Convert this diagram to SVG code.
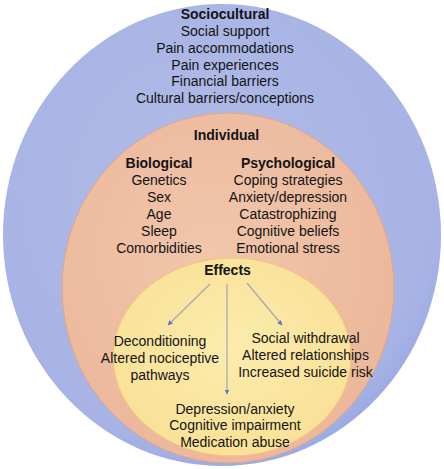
<svg xmlns="http://www.w3.org/2000/svg" width="444" height="469" viewBox="0 0 444 469">
  <style>
    text { font-family: "Liberation Sans", Arial, sans-serif; font-size: 14px; fill: #141414; text-anchor: middle; }
    .h { font-weight: bold; }
    .conn { stroke: #a3a6b8; stroke-width: 1.2; fill: none; marker-end: url(#ah); }
  </style>
  <defs>
    <radialGradient id="gBlue" cx="0.45" cy="0.4" r="0.65">
      <stop offset="0" stop-color="#b0bbe6"/>
      <stop offset="0.85" stop-color="#a7b3e5"/>
      <stop offset="1" stop-color="#95a5e2"/>
    </radialGradient>
    <radialGradient id="gOrange" cx="0.45" cy="0.4" r="0.65">
      <stop offset="0" stop-color="#f1c6ab"/>
      <stop offset="1" stop-color="#ecb699"/>
    </radialGradient>
    <radialGradient id="gYellow" cx="0.5" cy="0.45" r="0.6">
      <stop offset="0" stop-color="#fcecad"/>
      <stop offset="1" stop-color="#f9e095"/>
    </radialGradient>
    <marker id="ah" viewBox="0 0 10 10" refX="9" refY="5" markerWidth="5" markerHeight="5" orient="auto" markerUnits="userSpaceOnUse">
      <path d="M0,0 L10,5 L0,10 z" fill="#6474c8"/>
    </marker>
  </defs>

  <g id="sociocultural">
    <ellipse cx="222" cy="235" rx="219" ry="231" fill="url(#gBlue)"/>
    <text class="h" x="225" y="19">Sociocultural</text>
    <text x="225" y="36">Social support</text>
    <text x="225" y="53">Pain accommodations</text>
    <text x="225" y="69.5">Pain experiences</text>
    <text x="225" y="86">Financial barriers</text>
    <text x="225" y="103">Cultural barriers/conceptions</text>
  </g>

  <g id="individual">
    <ellipse cx="228" cy="288" rx="166" ry="175" fill="url(#gOrange)" stroke="#e2a688" stroke-width="1"/>
    <text class="h" x="226.5" y="140">Individual</text>
  </g>

  <g id="biological">
    <text class="h" x="159" y="168">Biological</text>
    <text x="159" y="185">Genetics</text>
    <text x="159" y="202">Sex</text>
    <text x="159" y="219">Age</text>
    <text x="159" y="236">Sleep</text>
    <text x="159" y="253">Comorbidities</text>
  </g>

  <g id="psychological">
    <text class="h" x="288" y="168">Psychological</text>
    <text x="288" y="185">Coping strategies</text>
    <text x="288" y="202">Anxiety/depression</text>
    <text x="288" y="219">Catastrophizing</text>
    <text x="288" y="236">Cognitive beliefs</text>
    <text x="288" y="253">Emotional stress</text>
  </g>

  <g id="effects">
    <ellipse cx="232" cy="357" rx="119" ry="99" fill="url(#gYellow)" stroke="#f0c483" stroke-width="1"/>
    <text class="h" x="227.5" y="275">Effects</text>
  </g>

  <g id="effect-left">
    <text x="160" y="346">Deconditioning</text>
    <text x="160" y="363">Altered nociceptive</text>
    <text x="160" y="379.5">pathways</text>
  </g>

  <g id="effect-right">
    <text x="305.5" y="343">Social withdrawal</text>
    <text x="305.5" y="360">Altered relationships</text>
    <text x="305.5" y="377">Increased suicide risk</text>
  </g>

  <g id="effect-bottom">
    <text x="235" y="413.5">Depression/anxiety</text>
    <text x="235" y="430">Cognitive impairment</text>
    <text x="235" y="446.5">Medication abuse</text>
  </g>

  <g id="connectors">
    <line class="conn" x1="210" y1="284" x2="168" y2="325"/>
    <line class="conn" x1="227" y1="284" x2="227" y2="394"/>
    <line class="conn" x1="247" y1="283" x2="282" y2="325"/>
  </g>
</svg>
